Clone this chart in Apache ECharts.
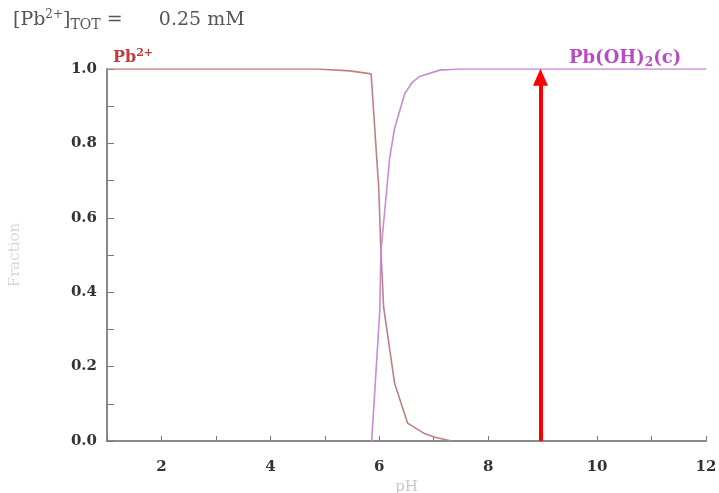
<!DOCTYPE html>
<html><head><meta charset="utf-8">
<script src="https://cdn.jsdelivr.net/npm/echarts@6/dist/echarts.min.js"></script>
<style>html,body{margin:0;padding:0;background:#fff}#c{width:719px;height:493px}</style>
</head><body><div id="c"></div>
<script>
const pbPH   = [1, 4.85, 5.46, 5.85, 5.99, 6.03, 6.08, 6.28, 6.52, 6.83, 7.02, 7.33];
const pbFrac = [1, 1, 0.995, 0.987, 0.68, 0.51, 0.36, 0.156, 0.048, 0.02, 0.01, 0];
const ohPH   = [5.86, 6.01, 6.03, 6.14, 6.19, 6.28, 6.47, 6.61, 6.74, 7.11, 7.48, 12];
const ohFrac = [0, 0.35, 0.51, 0.68, 0.76, 0.84, 0.935, 0.965, 0.98, 0.997, 1, 1];
const arrowPH = 8.96;
const arrowFrom = 0;
const arrowTo = 0.978;
const xTicks = [2, 4, 6, 8, 10, 12];
const yTicks = [0, 0.2, 0.4, 0.6, 0.8, 1.0];

const serif = 'DejaVu Serif, Liberation Serif, serif';
const chart = echarts.init(document.getElementById('c'));
chart.setOption({
  animation: false,
  grid: {left: 107, right: 13, top: 69, bottom: 52, outerBoundsMode: 'none', containLabel: false},
  title: {
    left: 8, top: 4,
    text: '{a|[Pb}{s|2+}{a|]}{b|TOT}{a| =      0.25 mM}',
    textStyle: {fontWeight: 'normal', rich: {
      a: {fontFamily: serif, fontSize: 19, fontWeight: 'normal', color: '#555'},
      s: {fontFamily: serif, fontSize: 12, fontWeight: 'normal', color: '#555', verticalAlign: 'top', padding: [0,0,9,0]},
      b: {fontFamily: serif, fontSize: 14, fontWeight: 'normal', color: '#555', padding: [9,0,0,0]}
    }}
  },
  graphic: [
    {type: 'text', left: 113, top: 48, style: {
      rich: {
        a: {fontFamily: serif, fontSize: 16, fontWeight: 'bold', fill: '#c23a3a'},
        s: {fontFamily: serif, fontSize: 11, fontWeight: 'bold', fill: '#c23a3a', padding: [0,0,8,0]}
      },
      text: '{a|Pb}{s|2+}'
    }},
    {type: 'text', left: 569, top: 49, style: {
      rich: {
        a: {fontFamily: serif, fontSize: 18, fontWeight: 'bold', fill: '#b84cc4'},
        s: {fontFamily: serif, fontSize: 12, fontWeight: 'bold', fill: '#b84cc4', padding: [9,0,0,0]}
      },
      text: '{a|Pb(OH)}{s|2}{a|(c)}'
    }}
  ],
  xAxis: {
    type: 'value', min: 1, max: 12, interval: 1,
    name: 'pH', nameLocation: 'middle', nameGap: 38,
    nameTextStyle: {fontFamily: serif, fontSize: 15, color: '#c8c8c8'},
    axisLine: {lineStyle: {color: '#8a8a8a', width: 2}},
    axisTick: {inside: true, length: 5, lineStyle: {color: '#777'}},
    axisLabel: {margin: 19, fontFamily: serif, fontSize: 15, fontWeight: 'bold', color: '#333',
      formatter: v => xTicks.includes(v) ? String(v) : ''},
    splitLine: {show: false}
  },
  yAxis: {
    type: 'value', min: 0, max: 1, interval: 0.1,
    name: 'Fraction', nameLocation: 'middle', nameGap: 84, nameRotate: 90,
    nameTextStyle: {fontFamily: serif, fontSize: 15, color: '#d8d8d8'},
    axisLine: {show: true, lineStyle: {color: '#8a8a8a', width: 2}},
    axisTick: {show: true, inside: true, length: 7, lineStyle: {color: '#777'}},
    axisLabel: {margin: 10, fontFamily: serif, fontSize: 15, fontWeight: 'bold', color: '#333',
      formatter: v => yTicks.some(t => Math.abs(t - v) < 1e-6) ? v.toFixed(1) : ''},
    splitLine: {show: false}
  },
  series: [
    {type: 'line', name: 'Pb2+', symbol: 'none', smooth: false,
     data: pbPH.map((x, i) => [x, pbFrac[i]]),
     lineStyle: {color: '#bf8080', width: 1.6}},
    {type: 'line', name: 'Pb(OH)2(c)', symbol: 'none', smooth: false,
     data: ohPH.map((x, i) => [x, ohFrac[i]]),
     lineStyle: {color: '#c98ad8', width: 1.6},
     markLine: {
       silent: true, symbol: ['none', 'triangle'], symbolSize: [15, 17],
       label: {show: false},
       lineStyle: {color: '#ff0000', width: 4, type: 'solid'},
       data: [[{coord: [arrowPH, arrowFrom]}, {coord: [arrowPH, arrowTo]}]]
     }}
  ]
});
</script></body></html>
